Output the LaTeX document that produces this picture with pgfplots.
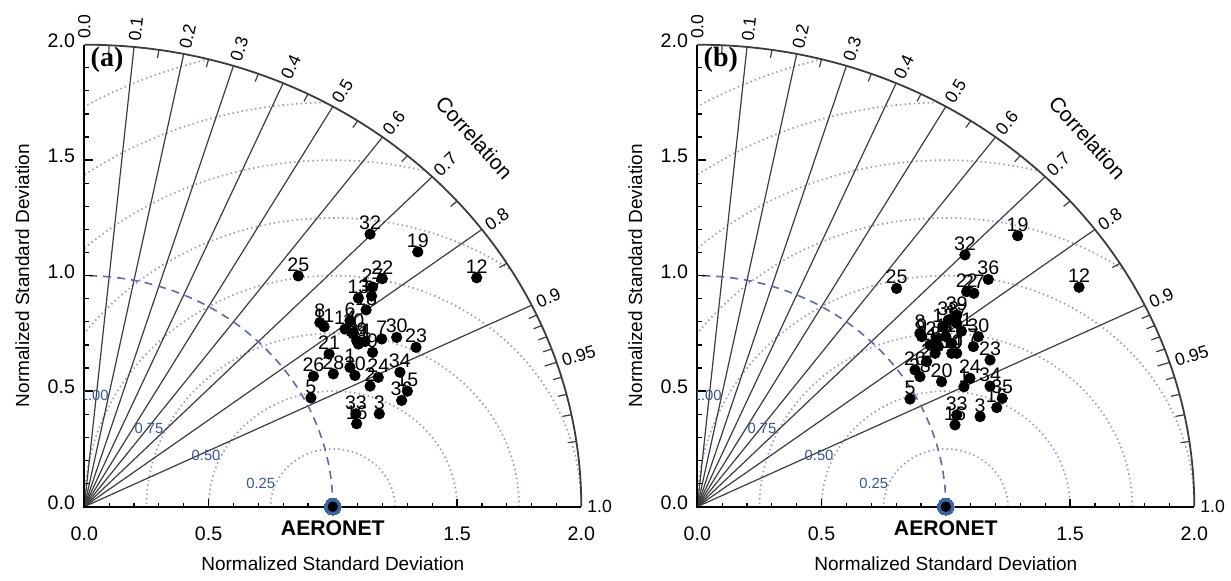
\documentclass[border=0pt]{standalone}
\usepackage{pgfplots}
\pgfplotsset{compat=1.18}
\usepackage{fontspec}
\setmainfont{Liberation Sans}
\newfontfamily\serif{Liberation Serif}
\definecolor{dotblue}{RGB}{150,150,205}
\definecolor{dashblue}{RGB}{95,105,170}
\definecolor{lblblue}{RGB}{55,85,150}
\definecolor{ringblue}{RGB}{60,100,160}
\definecolor{gridgray}{RGB}{60,60,60}

\newcommand{\taylorgrid}[3]{%
 \begin{scope}[shift={(#1,#2)}, x=124.25pt, y=115.5pt]
   \begin{scope}
     \clip (0,0) -- (2,0) arc[start angle=0,end angle=90,radius=2] -- cycle;
     \foreach \r in {0.25,0.5,0.75,1.0,1.25,1.5,1.75,2.0}
       \draw[dotblue, line width=0.85pt, dash pattern=on 0.7pt off 1.6pt] (1,0) circle[radius=\r];
   \end{scope}
   \foreach \c in {0.1,0.2,0.3,0.4,0.5,0.6,0.7,0.8,0.9}
     \draw[gridgray, line width=0.6pt] (0,0) -- ({2*\c},{2*sqrt(1-\c*\c)});
   \foreach \c in {0.05,0.15,0.25,0.35,0.45,0.55,0.65,0.75,0.85,0.91,0.92,0.93,0.94,0.96,0.97,0.98,0.99}
     \draw[gridgray, line width=0.6pt] ({1.965*\c},{1.965*sqrt(1-\c*\c)}) -- ({2*\c},{2*sqrt(1-\c*\c)});
   \draw[gridgray, line width=0.6pt] ({1.95*0.95},{1.95*sqrt(1-0.95*0.95)}) -- ({2*0.95},{2*sqrt(1-0.95*0.95)});
   \draw[gridgray, line width=0.9pt] (2,0) arc[start angle=0,end angle=90,radius=2];
   \draw[dashblue, line width=0.8pt, dash pattern=on 4pt off 3pt] (1,0) arc[start angle=0,end angle=90,radius=1];
   \foreach \c in {0.0,0.1,0.2,0.3,0.4,0.5,0.6,0.7,0.8,0.9,0.95,1.0}{
     \pgfmathsetmacro\ang{acos(\c)}
     \pgfmathsetmacro\sa{atan2(115.5*sin(\ang),124.25*cos(\ang))}
     \node[font=\fontsize{8.8}{9}\selectfont, anchor=west, inner sep=1pt, rotate=\sa] at ({2.015*cos(\ang)},{2.015*sin(\ang)}) {\c};
   }
   \node[font=\fontsize{10.5}{11}\selectfont, rotate=-48] at ({2.24*cos(45.5)},{2.24*sin(45.5)}) {Correlation};
   \draw[black, line width=1pt] (0,2) -- (0,0) -- (2,0);
   \foreach \t in {0.1,0.2,0.3,0.4,0.6,0.7,0.8,0.9,1.1,1.2,1.3,1.4,1.6,1.7,1.8,1.9}{
     \draw[black, line width=0.6pt] (\t,0) -- (\t,0.018);
     \draw[black, line width=0.6pt] (0,\t) -- (0.017,\t);}
   \foreach \t in {0.5,1.0,1.5}{
     \draw[black, line width=0.7pt] (\t,0) -- (\t,0.035);
     \draw[black, line width=0.7pt] (0,\t) -- (0.033,\t);}
   \foreach \t in {0.0,0.5,1.5,2.0}
     \node[font=\fontsize{9.8}{10}\selectfont] at (\t,0) [yshift=-13.5pt] {\t};
   \foreach \t in {0.0,0.5,1.0,1.5,2.0}
     \node[font=\fontsize{9.8}{10}\selectfont, anchor=east, inner sep=0pt] at (0,\t) [xshift=-4.5pt, yshift=2pt] {\t};
   \node[font=\fontsize{10.6}{11}\selectfont\bfseries] at (1,0) [yshift=-11pt] {AERONET};
   \node[font=\fontsize{9.5}{10}\selectfont] at (1,0) [yshift=-28.5pt] {Normalized Standard Deviation};
   \node[font=\fontsize{9.5}{10}\selectfont, rotate=90] at ([xshift=-31pt]0,1) {Normalized Standard Deviation};
   \node[font=\fontsize{14}{15}\selectfont\serif\bfseries, anchor=west, inner sep=0pt] at ([xshift=3pt]0,1.935) {#3};
   \node[font=\fontsize{7.4}{8}\selectfont, text=lblblue] at (0.71,0.10) {0.25};
   \node[font=\fontsize{7.4}{8}\selectfont, text=lblblue] at (0.49,0.22) {0.50};
   \node[font=\fontsize{7.4}{8}\selectfont, text=lblblue] at (0.26,0.34) {0.75};
   \begin{scope}
     \clip (0,0) rectangle (2,2);
     \node[font=\fontsize{7.4}{8}\selectfont, text=lblblue] at (0.04,0.48) {1.00};
   \end{scope}
 \end{scope}}

\pgfplotsset{taylor/.style={anchor=south west, x=124.25pt, y=115.5pt, xmin=0, xmax=2, ymin=0, ymax=2, hide axis, clip=false},
 pts/.style={only marks, mark=*, mark size=2.6pt, black, nodes near coords, point meta=explicit symbolic,
   every node near coord/.style={font=\fontsize{9.8}{10}\selectfont, inner sep=0.5pt, anchor=south, yshift=1.5pt}},
 aer/.style={only marks, mark=*, mark size=4.2pt, draw=ringblue, fill=ringblue, line width=0pt}}

\begin{document}
\begin{tikzpicture}
\useasboundingbox (0,0) rectangle (615.5pt,290.5pt);
\taylorgrid{42.15pt}{37.15pt}{(a)}
\taylorgrid{348.65pt}{37.15pt}{(b)}
\begin{axis}[taylor, at={(42.15pt,37.15pt)}]
\addplot[aer] coordinates {(1,0)};
\addplot[only marks, mark=*, mark size=2.4pt, black] coordinates {(1,0)};
\addplot[pts] table[meta=lab] {
x y lab
1.150 1.180 32
1.342 1.103 19
0.861 0.999 25
1.199 0.987 22
1.579 0.991 12
1.160 0.951 27
1.156 0.912 17
1.103 0.903 13
1.134 0.852 18
0.948 0.797 8
0.965 0.779 11
1.049 0.769 14
1.069 0.805 6
1.083 0.754 10
1.096 0.719 29
1.103 0.704 31
1.197 0.726 7
1.257 0.733 30
1.335 0.690 23
1.130 0.715 4
1.160 0.668 9
0.985 0.661 21
0.922 0.565 26
1.002 0.575 28
1.069 0.603 1
1.089 0.568 20
1.183 0.560 24
1.150 0.522 2
1.270 0.582 34
1.300 0.500 15
1.277 0.460 36
0.912 0.471 5
1.093 0.402 33
1.096 0.359 16
1.187 0.402 3
};
\end{axis}
\begin{axis}[taylor, at={(348.65pt,37.15pt)}]
\addplot[aer] coordinates {(1,0)};
\addplot[only marks, mark=*, mark size=2.4pt, black] coordinates {(1,0)};
\addplot[pts] table[meta=lab] {
x y lab
1.289 1.173 19
1.536 0.950 12
1.077 1.090 32
1.171 0.984 36
0.802 0.945 25
1.084 0.931 22
1.113 0.924 27
1.044 0.830 39
1.010 0.808 38
0.990 0.779 13
0.896 0.751 8
0.903 0.736 9
1.044 0.794 17
1.000 0.736 11
1.063 0.760 31
0.963 0.722 29
1.024 0.707 21
0.970 0.693 14
0.936 0.700 18
1.131 0.736 30
1.111 0.693 7
1.044 0.664 4
0.957 0.664 6
1.024 0.664 10
1.178 0.635 23
0.923 0.628 2
0.876 0.592 26
0.896 0.563 28
0.983 0.541 20
1.097 0.556 24
1.073 0.519 1
1.178 0.522 34
1.227 0.469 35
1.205 0.429 15
0.856 0.466 5
1.044 0.397 33
1.037 0.354 16
1.138 0.390 3
};
\end{axis}
\end{tikzpicture}
\end{document}
